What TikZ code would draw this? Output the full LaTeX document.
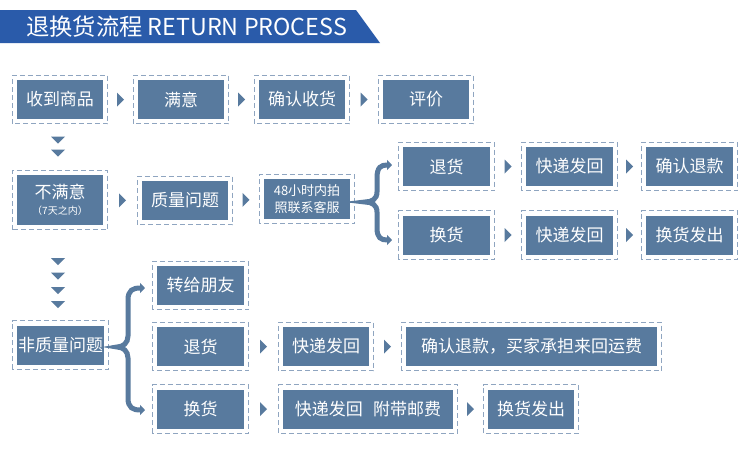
\documentclass[tikz,border=0pt]{standalone}
\usepackage{fontspec}
\newfontfamily\cjk{Noto Sans CJK SC}
\usetikzlibrary{arrows.meta,calc}
\definecolor{boxfill}{HTML}{587A9E}
\definecolor{framecol}{HTML}{8FA5C0}
\definecolor{headblue}{HTML}{2A5BAA}
\tikzset{
  box/.style={fill=boxfill, text=white, inner sep=0pt, minimum height=39pt, minimum width=86pt,
    font=\cjk\fontsize{17}{20}\selectfont, align=center},
  frame/.style={draw=framecol, line width=0.8pt, dash pattern=on 5pt off 3pt},
  tri/.style={fill=boxfill},
  brace/.style={draw=boxfill, line width=5pt, {Triangle[length=5pt,width=10pt]}-{Triangle[length=5pt,width=10pt]}},
}
\newcommand{\rtri}[1]{\fill[tri] ($(#1)+(-3.5,-7)$) -- ($(#1)+(3.5,0)$) -- ($(#1)+(-3.5,7)$) -- cycle;}
\newcommand{\dtri}[1]{\fill[tri] ($(#1)+(-7,-3.5)$) -- ($(#1)+(7,-3.5)$) -- ($(#1)+(0,3.5)$) -- cycle;}
\begin{document}
\begin{tikzpicture}[x=1pt,y=-1pt]
\useasboundingbox (0,0) rectangle (750,466);
\fill[white] (0,0) rectangle (750,466);
% header
\fill[headblue] (0,10) -- (356,10) -- (380,43) -- (0,43) -- cycle;
\node[anchor=west, text=white, inner sep=0pt, font=\cjk\fontsize{23.3}{25}\selectfont] (title) at (26,27) {退换货流程 RETURN PROCESS};
% row 1
\node[box] (n1) at (60,99.5) {收到商品};
\node[box] (n2) at (181,99.5) {满意};
\node[box] (n3) at (302,99.5) {确认收货};
\node[box] (n4) at (426,99.5) {评价};
% row 2
\node[box, minimum height=50pt] (n5) at (60,200) {不满意\\[-4pt]{\fontsize{10}{12}\selectfont （7天之内）}};
\node[box] (n6) at (185,200.5) {质量问题};
\node[box, minimum height=40pt, font=\cjk\fontsize{13}{17}\selectfont] (n7) at (307,199) {48小时内拍\\照联系客服};
\node[box, minimum width=87pt] (n8) at (446.5,166.5) {退货};
\node[box, minimum width=87pt] (n9) at (569.5,166.5) {快递发回};
\node[box, minimum width=87pt] (n10) at (689.5,166.5) {确认退款};
\node[box, minimum width=87pt] (n11) at (446.5,235) {换货};
\node[box, minimum width=87pt] (n12) at (569.5,235) {快递发回};
\node[box, minimum width=87pt] (n13) at (689.5,235) {换货发出};
% row 3
\node[box, minimum width=87pt] (n14) at (60.5,345) {非质量问题};
\node[box, minimum width=87pt] (n15) at (200.5,285.5) {转给朋友};
\node[box, minimum width=87pt] (n16) at (200.5,346.5) {退货};
\node[box, minimum width=87pt] (n17) at (200.5,409) {换货};
\node[box] (n18) at (326,346.5) {快递发回};
\node[box, minimum width=251pt] (n19) at (531.5,346.5) {确认退款，买家承担来回运费};
\node[box, minimum width=170pt] (n20) at (368,409) {快递发回\hspace{0.6em}附带邮费};
\node[box] (n21) at (531,409) {换货发出};
% dashed frames
\foreach \n in {n1,n2,n3,n4,n5,n6,n7,n8,n9,n10,n11,n12,n13,n14,n15,n16,n17,n18,n19,n20,n21}
  \draw[frame] ([shift={(-4.5pt,-4.5pt)}]\n.south west) rectangle ([shift={(4.5pt,4.5pt)}]\n.north east);
% right-pointing markers between boxes
\foreach \a/\b in {n1/n2,n2/n3,n3/n4,n5/n6,n6/n7,n8/n9,n9/n10,n11/n12,n12/n13,n16/n18,n18/n19,n17/n20,n20/n21}
  \path (\a.east) -- (\b.west) coordinate[midway] (m\a\b);
\foreach \a/\b in {n1/n2,n2/n3,n3/n4,n5/n6,n6/n7,n8/n9,n9/n10,n11/n12,n12/n13,n16/n18,n18/n19,n17/n20,n20/n21}
  {\rtri{m\a\b}}
% down markers
\coordinate (d1) at (58,140); \coordinate (d2) at (58,153);
\dtri{d1} \dtri{d2}
\coordinate (e1) at (58,261.5); \coordinate (e2) at (58,276);
\coordinate (e3) at (58,290.5); \coordinate (e4) at (58,304.5);
\dtri{e1} \dtri{e2} \dtri{e3} \dtri{e4}
% braces
\draw[brace] (392,165) .. controls (381,165) and (377,167) .. (377,178) -- (377,192)
  .. controls (377,199) and (372,202) .. (365,202)
  .. controls (372,202) and (377,205) .. (377,212) -- (377,228)
  .. controls (377,238) and (381,240) .. (392,240);
\draw[brace] (145,288) .. controls (133,288) and (128,290) .. (128,300) -- (128,336)
  .. controls (128,343) and (123,347) .. (117,347)
  .. controls (123,347) and (128,351) .. (128,358) -- (128,398)
  .. controls (128,408) and (133,410) .. (145,410);
\end{tikzpicture}
\end{document}
